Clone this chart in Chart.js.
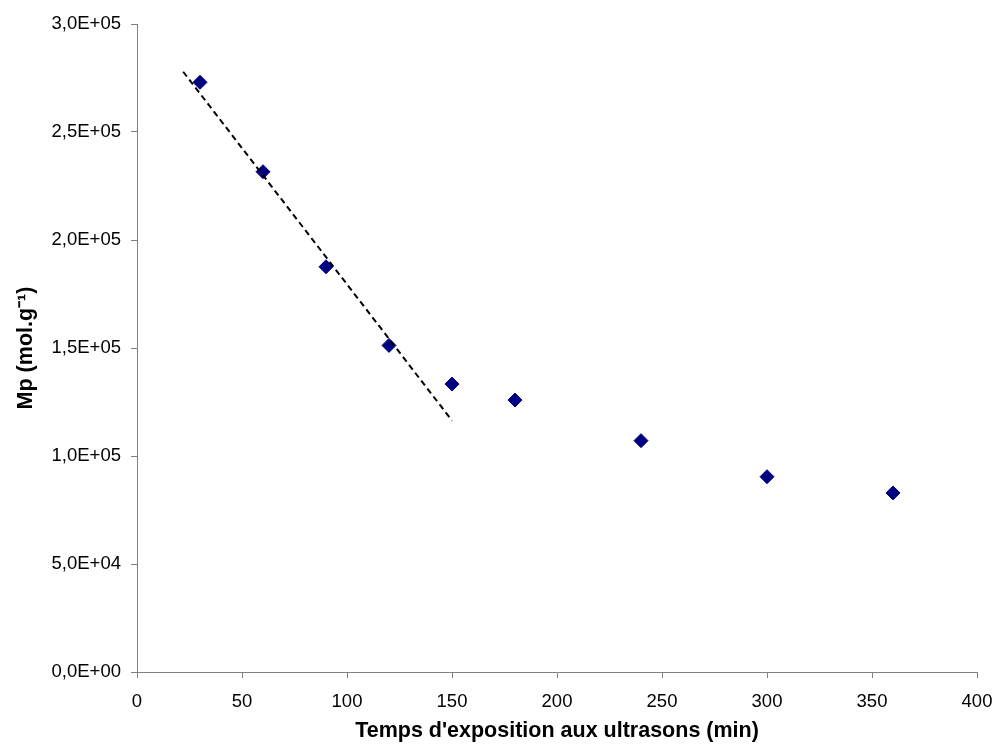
<!DOCTYPE html>
<html>
<head>
<meta charset="utf-8">
<script src="https://cdn.jsdelivr.net/npm/chart.js@4"></script>
<style>
  html, body { margin: 0; padding: 0; background: #ffffff; }
  #wrap { width: 995px; height: 744px; }
</style>
</head>
<body>
<div id="wrap"><canvas id="chart" width="995" height="744"></canvas></div>
<script>
/* --------------- Measured points --------------------- */
const times = [30, 60, 90, 120, 150, 180, 240, 300, 360];
const mpValues = [273000, 231600, 187600, 151200, 133300, 125900, 107100, 90400, 82900];

/* --------------- Linear fit on the first points --------------------- */
const trendTimes = [22, 150];
const trendValues = [277900, 116400];

/* --------------- Axis setup --------------------- */
const xTitle = "Temps d'exposition aux ultrasons (min)";
const yTitle = "Mp (mol.g⁻¹)";
const xRange = [0, 400];
const yRange = [0, 300000];

const toPoints = (xs, ys) => xs.map((x, i) => ({ x: x, y: ys[i] }));

// 3.0e+5 -> 3,0E+05
const sciLabel = (v) => {
  let [m, e] = Number(v).toExponential(1).split("e");
  let sign = e[0] == "-" ? "-" : "+";
  let n = e.replace(/[+-]/, "");
  if (n.length < 2) n = "0" + n;
  return m.replace(".", ",") + "E" + sign + n;
};

const axisColor = "#808080";
const tickFont = { family: "Arial, 'Liberation Sans'", size: 18.5 };
const titleFont = { family: "Arial, 'Liberation Sans'", size: 21.5, weight: "bold" };

new Chart(document.getElementById("chart"), {
  type: "scatter",
  data: {
    datasets: [
      {
        label: "trend",
        type: "line",
        data: toPoints(trendTimes, trendValues),
        borderColor: "#000000",
        borderWidth: 2,
        borderDash: [6, 4],
        pointRadius: 0,
        fill: false,
      },
      {
        label: "Mp",
        data: toPoints(times, mpValues),
        pointStyle: "rectRot",
        pointRadius: 7,
        backgroundColor: "#000080",
        borderColor: "#000080",
        borderWidth: 1,
      },
    ],
  },
  options: {
    responsive: false,
    animation: false,
    layout: { padding: { top: 24, right: 18, left: 0, bottom: 0 } },
    plugins: {
      legend: { display: false },
      tooltip: { enabled: false },
    },
    scales: {
      x: {
        type: "linear",
        min: xRange[0],
        max: xRange[1],
        grid: { drawOnChartArea: false, drawTicks: true, tickLength: 6, color: axisColor },
        border: { color: axisColor, width: 1 },
        ticks: { stepSize: 50, color: "#000000", font: tickFont, padding: 13, maxRotation: 0 },
        title: { display: true, text: xTitle, color: "#000000", font: titleFont, padding: { top: 0, bottom: 0 } },
        afterFit: (scale) => {
          scale.height = 72;
          scale.paddingLeft = 0;
          scale.paddingRight = 0;
        },
      },
      y: {
        type: "linear",
        min: yRange[0],
        max: yRange[1],
        grid: { drawOnChartArea: false, drawTicks: true, tickLength: 6, color: axisColor },
        border: { color: axisColor, width: 1 },
        ticks: { stepSize: 50000, color: "#000000", font: tickFont, padding: 10, callback: (v) => sciLabel(v) },
        title: { display: true, text: yTitle, color: "#000000", font: titleFont, padding: { top: 13, bottom: 0 } },
        afterFit: (scale) => {
          scale.width = 137;
          scale.paddingTop = 0;
          scale.paddingBottom = 0;
        },
      },
    },
  },
});
</script>
</body>
</html>
